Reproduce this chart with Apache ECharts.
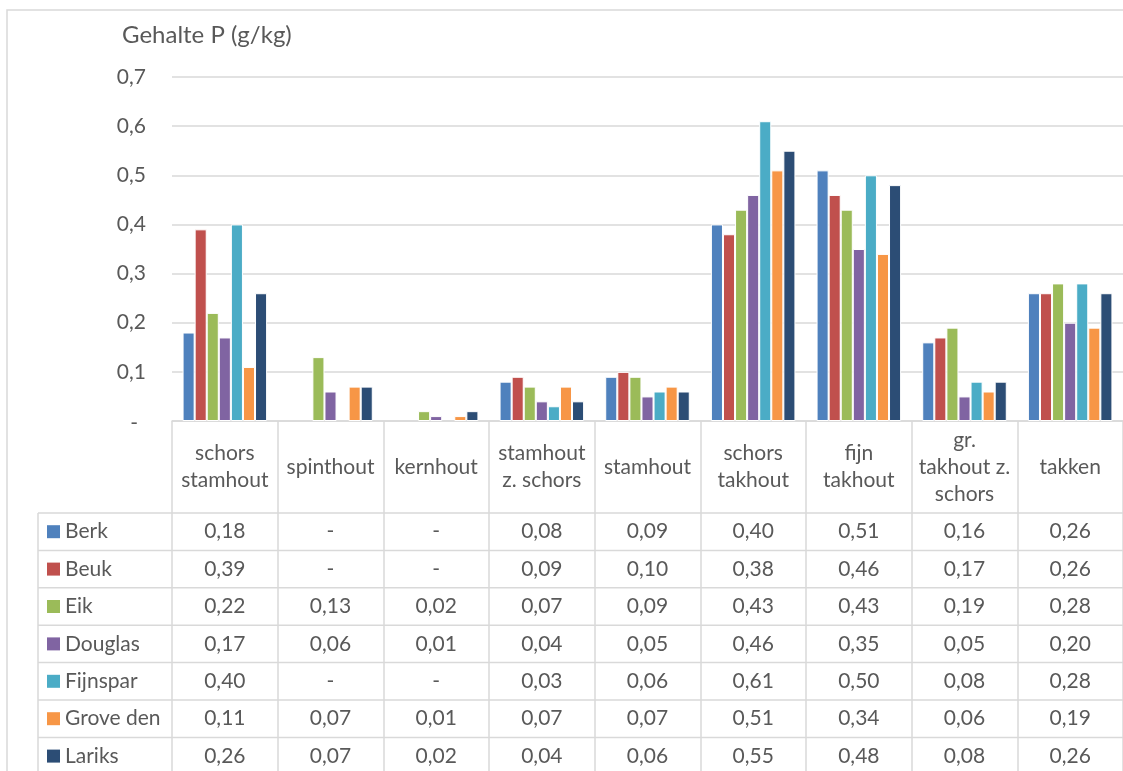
<!DOCTYPE html>
<html>
<head>
<meta charset="utf-8">
<title>Gehalte P (g/kg)</title>
<script src="https://cdn.jsdelivr.net/npm/echarts@6/dist/echarts.min.js"></script>
<style>
  html, body { margin: 0; padding: 0; background: #ffffff; }
  #chart { width: 1123px; height: 771px; }
</style>
</head>
<body>
<div id="chart"></div>
<script>
// Boomdelen (categorieën)
const categories = [
  'schors\nstamhout', 'spinthout', 'kernhout', 'stamhout\nz. schors', 'stamhout',
  'schors\ntakhout', 'fijn\ntakhout', 'gr.\ntakhout z.\nschors', 'takken'
];

// P-gehalte per boomsoort (g/kg); null = niet bepaald
const berk     = [0.18, null, null, 0.08, 0.09, 0.40, 0.51, 0.16, 0.26];
const beuk     = [0.39, null, null, 0.09, 0.10, 0.38, 0.46, 0.17, 0.26];
const eik      = [0.22, 0.13, 0.02, 0.07, 0.09, 0.43, 0.43, 0.19, 0.28];
const douglas  = [0.17, 0.06, 0.01, 0.04, 0.05, 0.46, 0.35, 0.05, 0.20];
const fijnspar = [0.40, null, null, 0.03, 0.06, 0.61, 0.50, 0.08, 0.28];
const groveDen = [0.11, 0.07, 0.01, 0.07, 0.07, 0.51, 0.34, 0.06, 0.19];
const lariks   = [0.26, 0.07, 0.02, 0.04, 0.06, 0.55, 0.48, 0.08, 0.26];

const speciesNames = ['Berk', 'Beuk', 'Eik', 'Douglas', 'Fijnspar', 'Grove den', 'Lariks'];
const speciesValues = [berk, beuk, eik, douglas, fijnspar, groveDen, lariks];
const speciesColors = ['#4F81BD', '#C0504D', '#9BBB59', '#8064A2', '#4BACC6', '#F79646', '#2C4D75'];

// Y-as
const yMin = 0, yMax = 0.7, yStep = 0.1;

// Opmaak
const FONT = 'Lato, "Open Sans", sans-serif';
const TEXT = '#595959';
const RULE = '#D9D9D9';
const FS = 21;

// Plotgebied en gegevenstabel
const GRID_LEFT = 172, GRID_TOP = 77, PLOT_BOTTOM = 421, GRID_WIDTH = 956;
const HEADER_H = 92, ROW_H = 37.4;
const TABLE_LEFT = 38;
const LEGEND_ITEM_H = 21;

const fmt = v => (v === null || v === undefined) ? '-' : v.toFixed(2).replace('.', ',');

const chart = echarts.init(document.getElementById('chart'), null, { renderer: 'canvas' });

const xAxes = [{
  type: 'category',
  data: categories,
  position: 'bottom',
  boundaryGap: true,
  axisLine: { show: true, lineStyle: { color: RULE, width: 1.5 } },
  axisTick: { show: true, length: 360, lineStyle: { color: RULE, width: 1.5 } },
  axisLabel: {
    interval: 0, margin: HEADER_H / 2, verticalAlign: 'middle',
    color: TEXT, fontSize: FS, fontFamily: FONT, lineHeight: 27
  },
  splitLine: { show: false }
}];

// Eén rij van de tabel per boomsoort, als extra categorie-as onder de grafiek
speciesValues.forEach((vals, i) => {
  xAxes.push({
    type: 'category',
    data: categories,
    position: 'bottom',
    offset: HEADER_H + i * ROW_H,
    axisLine: { show: false },
    axisTick: { show: false },
    splitLine: { show: false },
    axisLabel: {
      interval: 0, margin: ROW_H / 2, verticalAlign: 'middle',
      color: TEXT, fontSize: FS, fontFamily: FONT,
      formatter: (value, idx) => fmt(vals[idx])
    }
  });
});

// Horizontale tabellijnen
const tableLines = [];
for (let r = 0; r <= speciesNames.length; r++) {
  const y = PLOT_BOTTOM + HEADER_H + r * ROW_H;
  tableLines.push({
    type: 'line', silent: true,
    shape: { x1: TABLE_LEFT, y1: y, x2: 1130, y2: y },
    style: { stroke: RULE, lineWidth: 1.5 }
  });
}
tableLines.push({
  type: 'line', silent: true,
  shape: { x1: TABLE_LEFT, y1: PLOT_BOTTOM + HEADER_H, x2: TABLE_LEFT, y2: 800 },
  style: { stroke: RULE, lineWidth: 1.5 }
});

const option = {
  backgroundColor: '#ffffff',
  animation: false,
  textStyle: { fontFamily: FONT },
  title: {
    text: 'Gehalte P (g/kg)',
    left: 122, top: 23, padding: 0,
    textStyle: { color: TEXT, fontSize: 24, fontWeight: 'normal', fontFamily: FONT }
  },
  legend: {
    data: speciesNames,
    orient: 'vertical',
    left: 47, top: PLOT_BOTTOM + HEADER_H + (ROW_H - LEGEND_ITEM_H) / 2,
    width: 130, height: 300,
    itemWidth: 13, itemHeight: 13, itemGap: ROW_H - LEGEND_ITEM_H,
    icon: 'rect',
    selectedMode: false,
    padding: 0,
    itemStyle: { borderWidth: 0 },
    textStyle: { color: TEXT, fontSize: FS, fontFamily: FONT, lineHeight: LEGEND_ITEM_H }
  },
  grid: {
    left: GRID_LEFT, top: GRID_TOP, width: GRID_WIDTH,
    height: PLOT_BOTTOM - GRID_TOP, containLabel: false
  },
  xAxis: xAxes,
  yAxis: {
    type: 'value',
    min: yMin, max: yMax, interval: yStep,
    axisLine: { show: false },
    axisTick: { show: false },
    splitLine: { show: true, lineStyle: { color: RULE, width: 1.5 } },
    axisLabel: {
      margin: 26, color: TEXT, fontSize: FS, fontFamily: FONT,
      formatter: v => (Math.abs(v) < 1e-9 ? '{z|-}' : v.toFixed(1).replace('.', ',')),
      rich: { z: { color: TEXT, fontSize: FS, fontFamily: FONT, padding: [4, 8, 0, 0] } }
    }
  },
  graphic: [
    {
      type: 'rect', silent: true, z: -1,
      shape: { x: 7, y: 10, width: 1140, height: 790 },
      style: { fill: 'none', stroke: RULE, lineWidth: 1.5 }
    },
    ...tableLines
  ],
  series: speciesNames.map((name, i) => ({
    name,
    type: 'bar',
    xAxisIndex: 0,
    data: speciesValues[i],
    barGap: '0%',
    barCategoryGap: '20%',
    itemStyle: { color: speciesColors[i], borderColor: '#ffffff', borderWidth: 1 }
  }))
};

chart.setOption(option);
</script>
</body>
</html>
